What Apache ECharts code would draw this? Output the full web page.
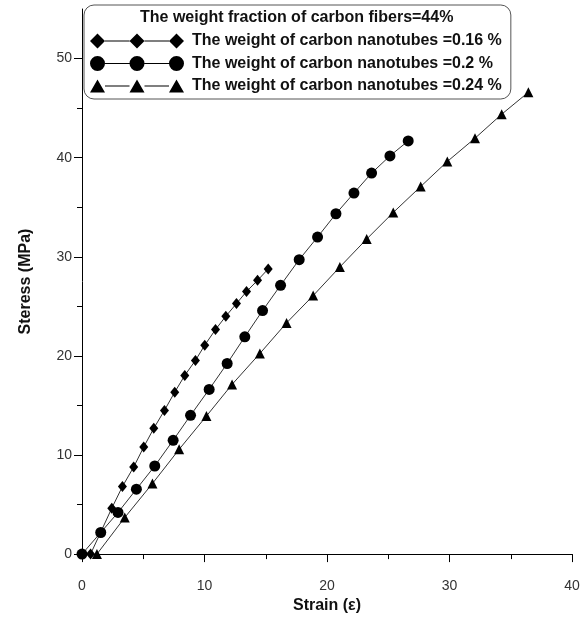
<!DOCTYPE html>
<html>
<head>
<meta charset="utf-8">
<script src="https://cdn.jsdelivr.net/npm/echarts@6/dist/echarts.min.js"></script>
<style>
html,body{margin:0;padding:0;background:#fff;}
#c{width:587px;height:619px;}
</style>
</head>
<body>
<div id="c"></div>
<script>
// ---- data ----
const titleText = 'The weight fraction of carbon fibers=44%';
const seriesNames = [
  'The weight of carbon nanotubes =0.16 %',
  'The weight of carbon nanotubes =0.2 %',
  'The weight of carbon nanotubes =0.24 %'
];
const strain016 = [0.7, 2.43, 3.30, 4.22, 5.04, 5.86, 6.73, 7.57, 8.39, 9.26, 10.02, 10.90, 11.74, 12.61, 13.43, 14.33, 15.20];
const stress016 = [0, 4.63, 6.82, 8.79, 10.81, 12.69, 14.50, 16.34, 18.03, 19.54, 21.08, 22.66, 24.0, 25.28, 26.49, 27.62, 28.77];
const strain02 = [0, 1.53, 2.94, 4.44, 5.94, 7.44, 8.86, 10.38, 11.85, 13.29, 14.74, 16.21, 17.73, 19.23, 20.73, 22.2, 23.64, 25.14, 26.63];
const stress02 = [0, 2.18, 4.20, 6.55, 8.89, 11.48, 14.0, 16.62, 19.23, 21.92, 24.57, 27.12, 29.71, 31.99, 34.34, 36.43, 38.44, 40.18, 41.69];
const strain024 = [1.22, 3.49, 5.75, 7.93, 10.16, 12.25, 14.52, 16.70, 18.87, 21.05, 23.24, 25.41, 27.65, 29.82, 32.08, 34.26, 36.44];
const stress024 = [0, 3.69, 7.12, 10.57, 13.93, 17.12, 20.24, 23.33, 26.08, 28.97, 31.79, 34.47, 37.09, 39.61, 41.96, 44.38, 46.6];
const xTicks = [0, 10, 20, 30, 40];
const yTicks = [0, 10, 20, 30, 40, 50];

function pairs(xs, ys) { return xs.map((x, i) => [x, ys[i]]); }

const FONT = '"Liberation Sans", Arial, sans-serif';
const lineBar = ' M15,7 L39.5,7 L39.5,8 L15,8 Z M54.5,7 L79,7 L79,8 L54.5,8 Z';
const iconDiamond = 'path://M0,7.5 L7.5,0 L15,7.5 L7.5,15 Z M39.5,7.5 L47,0 L54.5,7.5 L47,15 Z M79,7.5 L86.5,0 L94,7.5 L86.5,15 Z' + lineBar;
const iconCircle = 'path://M0,7.5 A7.5,7.5 0 1,0 15,7.5 A7.5,7.5 0 1,0 0,7.5 Z M39.5,7.5 A7.5,7.5 0 1,0 54.5,7.5 A7.5,7.5 0 1,0 39.5,7.5 Z M79,7.5 A7.5,7.5 0 1,0 94,7.5 A7.5,7.5 0 1,0 79,7.5 Z' + lineBar;
const iconTriangle = 'path://M0,14 L7.5,1 L15,14 Z M39.5,14 L47,1 L54.5,14 Z M79,14 L86.5,1 L94,14 Z' + lineBar;

const chart = echarts.init(document.getElementById('c'), null, {renderer: 'canvas'});
const common = {
  type: 'line',
  color: '#000',
  lineStyle: {color: '#333', width: 1},
  itemStyle: {color: '#000'},
  animation: false,
  z: 3
};
chart.setOption({
  animation: false,
  backgroundColor: '#fff',
  textStyle: {fontFamily: FONT},
  title: {
    text: titleText,
    left: 140,
    top: 10,
    padding: 0,
    z: 10,
    textStyle: {fontFamily: FONT, fontSize: 16, fontWeight: 'bold', color: '#111', lineHeight: 16}
  },
  legend: {
    orient: 'vertical',
    left: 84,
    top: 5,
    padding: [28, 9, 5, 6],
    itemGap: 6.5,
    itemWidth: 94,
    itemHeight: 15,
    backgroundColor: '#fff',
    borderColor: '#555',
    borderWidth: 1,
    borderRadius: 10,
    z: 5,
    textStyle: {fontFamily: FONT, fontSize: 16, fontWeight: 'bold', color: '#111', lineHeight: 16, padding: [0, 0, 0, 3]},
    data: [
      {name: seriesNames[0], icon: iconDiamond},
      {name: seriesNames[1], icon: iconCircle},
      {name: seriesNames[2], icon: iconTriangle}
    ]
  },
  grid: {left: 82, right: 15, top: 9, bottom: 64, containLabel: false},
  xAxis: {
    type: 'value',
    min: 0, max: 40, interval: 10,
    name: 'Strain (ε)',
    nameLocation: 'middle',
    nameGap: 43,
    nameTextStyle: {fontFamily: FONT, fontSize: 16, fontWeight: 'bold', color: '#111'},
    axisLine: {show: true, onZero: false, lineStyle: {color: '#000', width: 1}},
    axisTick: {show: true, inside: false, length: 8, lineStyle: {color: '#000'}},
    minorTick: {show: true, splitNumber: 2, length: 5, lineStyle: {color: '#000'}},
    splitLine: {show: false},
    axisLabel: {
      customValues: xTicks,
      margin: 25, fontFamily: FONT, fontSize: 14, color: '#333'
    }
  },
  yAxis: {
    type: 'value',
    min: 0, max: 55, interval: 10,
    name: 'Steress (MPa)',
    nameLocation: 'middle',
    nameGap: 48,
    nameRotate: 90,
    nameTextStyle: {fontFamily: FONT, fontSize: 16, fontWeight: 'bold', color: '#111'},
    axisLine: {show: true, onZero: false, lineStyle: {color: '#000', width: 1}},
    axisTick: {show: true, inside: false, length: 8, customValues: yTicks, lineStyle: {color: '#000'}},
    minorTick: {show: true, splitNumber: 2, length: 5, lineStyle: {color: '#000'}},
    splitLine: {show: false},
    axisLabel: {
      customValues: yTicks,
      margin: 10, fontFamily: FONT, fontSize: 14, color: '#333'
    }
  },
  series: [
    Object.assign({}, common, {name: seriesNames[0], data: pairs(strain016, stress016), symbol: 'diamond', symbolSize: [9, 11]}),
    Object.assign({}, common, {name: seriesNames[1], data: pairs(strain02, stress02), symbol: 'circle', symbolSize: 11}),
    Object.assign({}, common, {name: seriesNames[2], data: pairs(strain024, stress024), symbol: 'triangle', symbolSize: 10})
  ]
});
</script>
</body>
</html>
